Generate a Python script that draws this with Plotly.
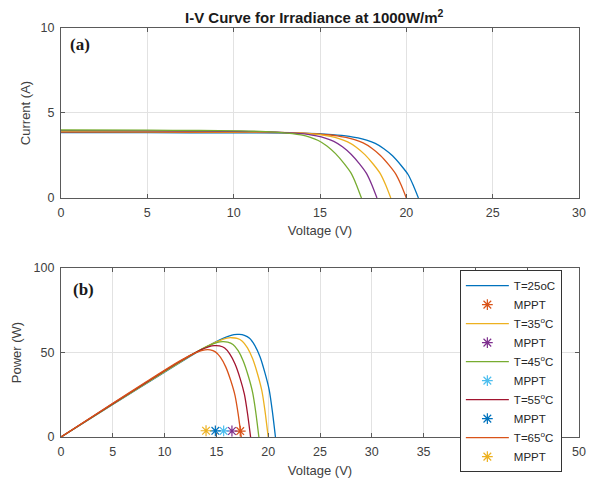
import plotly.graph_objects as go

# ---------------- data ----------------
temps = ["T=25oC", "T=35<sup>o</sup>C", "T=45<sup>o</sup>C", "T=55<sup>o</sup>C", "T=65<sup>o</sup>C"]

v_25 = [0, 5, 10, 13.7, 15.7, 16.7, 17.2, 17.7, 18.2, 18.7, 19.2, 19.7, 20.1, 20.4, 20.7]
i_25 = [3.84, 3.84, 3.83, 3.81, 3.73, 3.63, 3.53, 3.40, 3.21, 2.90, 2.48, 1.91, 1.38, 0.75, 0]

v_35 = [0, 5, 10, 13.0, 15.0, 16.0, 16.5, 17.0, 17.5, 18.0, 18.5, 19.0, 19.4, 19.7, 20.0]
i_35 = [3.88, 3.87, 3.86, 3.84, 3.75, 3.66, 3.56, 3.43, 3.24, 2.93, 2.50, 1.93, 1.39, 0.76, 0]

v_45 = [0, 5, 10, 12.1, 14.1, 15.1, 15.6, 16.1, 16.6, 17.1, 17.6, 18.1, 18.5, 18.8, 19.1]
i_45 = [3.92, 3.91, 3.89, 3.87, 3.80, 3.71, 3.62, 3.49, 3.30, 2.99, 2.55, 1.97, 1.42, 0.78, 0]

v_55 = [0, 5, 10, 11.3, 13.3, 14.3, 14.8, 15.3, 15.8, 16.3, 16.8, 17.3, 17.7, 18.0, 18.3]
i_55 = [3.96, 3.95, 3.92, 3.90, 3.83, 3.74, 3.65, 3.52, 3.33, 3.01, 2.57, 1.99, 1.43, 0.78, 0]

v_65 = [0, 5, 8, 10.4, 12.4, 13.4, 13.9, 14.4, 14.9, 15.4, 15.9, 16.4, 16.8, 17.1, 17.4]
i_65 = [4.00, 3.99, 3.97, 3.95, 3.88, 3.79, 3.71, 3.58, 3.38, 3.06, 2.61, 2.02, 1.46, 0.80, 0]

# MPPT markers (voltage at MPP, plotted value)
mppt_v = [17.3, 16.5, 15.7, 14.9, 14.0]
mppt_y = [3.50, 3.56, 3.62, 3.65, 3.71]

voltages = [v_25, v_35, v_45, v_55, v_65]
currents = [i_25, i_35, i_45, i_55, i_65]
powers = [[v * i for v, i in zip(vs, cs)] for vs, cs in zip(voltages, currents)]

x_ticks_top = [0, 5, 10, 15, 20, 25, 30]
y_ticks_top = [0, 5, 10]
x_ticks_bot = [0, 5, 10, 15, 20, 25, 30, 35, 40, 45, 50]
y_ticks_bot = [0, 50, 100]

# ---------------- styles ----------------
top_colors = ["#0072BD", "#D95319", "#EDB120", "#7E2F8E", "#77AC30"]
bot_line_colors = ["#0072BD", "#EDB120", "#77AC30", "#A2142F", "#D95319"]
bot_star_colors = ["#D95319", "#7E2F8E", "#4DBEEE", "#0072BD", "#EDB120"]

fig = go.Figure()

for k in range(5):
    fig.add_trace(go.Scatter(x=voltages[k], y=currents[k], mode="lines",
                             line=dict(color=top_colors[k], width=1.3, shape="spline", smoothing=0.6),
                             showlegend=False, xaxis="x", yaxis="y"))

for k in range(5):
    fig.add_trace(go.Scatter(x=voltages[k], y=powers[k], mode="lines", name=temps[k],
                             line=dict(color=bot_line_colors[k], width=1.3, shape="spline", smoothing=0.6),
                             xaxis="x2", yaxis="y2"))
    fig.add_trace(go.Scatter(x=[mppt_v[k]], y=[mppt_y[k]], mode="markers", name="MPPT",
                             marker=dict(symbol="asterisk-open", size=9, color=bot_star_colors[k],
                                         line=dict(color=bot_star_colors[k], width=1.2)),
                             xaxis="x2", yaxis="y2"))

axis_common = dict(showline=True, linecolor="#5a5a5a", linewidth=1.3, mirror="ticks",
                   ticks="inside", ticklen=4, tickcolor="#5a5a5a", showgrid=True,
                   gridcolor="#e2e2e2", gridwidth=1, zeroline=False, automargin=False,
                   ticklabelstandoff=3,
                   tickfont=dict(family="Liberation Sans, Arial", size=12.5, color="#404040"))
title_font = dict(family="Liberation Sans, Arial", size=13, color="#404040")

# the page body adds an 8px offset, so margins are set 8px smaller on the left/top
fig.update_layout(
    width=599, height=485, autosize=False,
    margin=dict(l=53, r=28, t=20, b=56, autoexpand=False),
    paper_bgcolor="white", plot_bgcolor="white",
    xaxis=dict(domain=[0, 1], range=[0, 30], tickvals=x_ticks_top, anchor="y",
               title=dict(text="Voltage (V)", standoff=6, font=title_font), **axis_common),
    yaxis=dict(domain=[0.5844, 1], range=[0, 10], tickvals=y_ticks_top, anchor="x",
               title=dict(text="Current (A)", standoff=6, font=title_font), **axis_common),
    xaxis2=dict(domain=[0, 1], range=[0, 50], tickvals=x_ticks_bot, anchor="y2",
                title=dict(text="Voltage (V)", standoff=7, font=title_font), **axis_common),
    yaxis2=dict(domain=[0, 0.4132], range=[0, 100], tickvals=y_ticks_bot, anchor="x2",
                title=dict(text="Power (W)", standoff=8, font=title_font), **axis_common),
    legend=dict(x=0.77, y=0.408, xanchor="left", yanchor="top",
                bgcolor="white", bordercolor="#333333", borderwidth=1,
                font=dict(family="Liberation Sans, Arial", size=11.5, color="#262626"),
                itemwidth=43, tracegroupgap=0),
    annotations=[
        dict(text="<b>I-V Curve for Irradiance at 1000W/m<sup>2</sup></b>", xref="paper", yref="paper",
             x=0.49, y=1, xanchor="center", yanchor="bottom", yshift=0, showarrow=False,
             font=dict(family="Liberation Sans, Arial", size=15, color="#1a1a1a")),
        dict(text="<b>(a)</b>", xref="x domain", yref="y domain", x=0.014, y=0.9,
             xanchor="left", yanchor="middle", showarrow=False,
             font=dict(family="Liberation Serif, Times New Roman", size=17, color="#1a1a1a")),
        dict(text="<b>(b)</b>", xref="x2 domain", yref="y2 domain", x=0.02, y=0.87,
             xanchor="left", yanchor="middle", showarrow=False,
             font=dict(family="Liberation Serif, Times New Roman", size=17, color="#1a1a1a")),
    ],
)

fig.write_html("out.html")
